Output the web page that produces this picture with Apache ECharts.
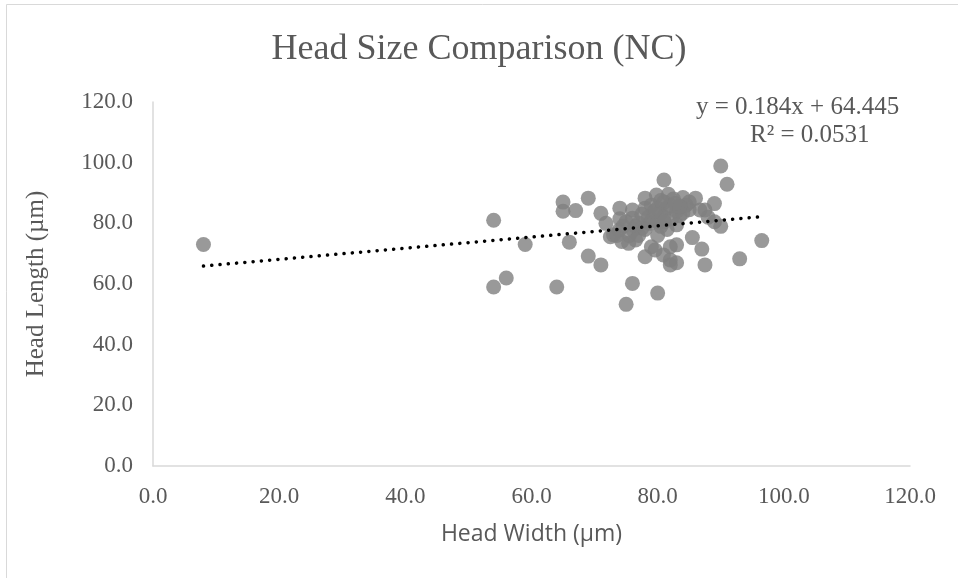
<!DOCTYPE html>
<html>
<head>
<meta charset="utf-8">
<script src="https://cdn.jsdelivr.net/npm/echarts@6/dist/echarts.min.js"></script>
<style>
  html, body { margin: 0; padding: 0; background: #fff; }
  #main { width: 958px; height: 578px; }
</style>
</head>
<body>
<div id="main"></div>
<script>
// 数据：头宽 / 头长 (µm)
var headWidth = [8, 54, 54, 56, 59, 64, 65, 65, 66, 67, 69, 69, 71, 71,
  71.8, 72.5, 73, 73.9, 74, 74.3, 75.4, 75, 76, 76, 76, 76.1, 76.5, 75,
  77, 77.5, 78, 78, 78, 78.5, 78.8, 79, 79.6, 79.8, 79, 80, 80, 80.4, 80.5, 80.9,
  81, 81, 81.5, 81.7, 81.5, 82, 82, 82, 82.2, 82.5, 83, 83, 83, 83.5, 83,
  84, 84.5, 85, 85.5, 86, 86.7, 87, 87.5, 87.5, 88, 89, 89, 90, 90, 91, 93, 96.5,
  79, 80, 81, 82, 84, 77, 78, 80, 85, 74.5, 75.5, 76.5, 74, 73.5,
  79.5, 80.5, 82.8, 81, 83.5, 77.5];
var headLength = [73, 81, 59, 62, 73, 59, 87, 84, 73.8, 84.2, 88.3, 69.2, 83.3, 66.3,
  80, 75.6, 76.2, 77.8, 85, 74, 73.4, 53.3, 60.2, 84.4, 81.7, 77.8, 79, 80.5,
  76, 78.5, 88.3, 85, 69, 82, 80, 72.3, 71.2, 89.3, 86, 57, 76, 83.5, 79, 69.6,
  94.3, 87, 85, 89.6, 78, 72.3, 66.3, 67.9, 81.5, 88, 72.9, 67, 84, 82.5, 79.5,
  88.5, 86, 84.5, 75.3, 88.3, 84.4, 71.5, 66.3, 84.4, 82, 86.5, 80.5, 79, 98.9, 92.9, 68.3, 74.3,
  81, 85, 82, 86, 83.5, 80, 78, 80.5, 87, 79, 76, 74.5, 81.5, 76,
  84, 87.5, 86.5, 80.5, 85.5, 83];
var axisTicks = [0, 20, 40, 60, 80, 100, 120];

// 线性趋势线 (图上给出的方程)
var slope = 0.184;
var intercept = 64.445;
var rSquared = 0.0531;

var points = headWidth.map(function (x, i) { return [x, headLength[i]]; });
var xMin = Math.min.apply(null, headWidth);
var xMax = Math.max.apply(null, headWidth);
var trend = [[xMin, slope * xMin + intercept], [xMax, slope * xMax + intercept]];

var myChart = echarts.init(document.getElementById('main'));

var serif = 'Liberation Serif, Times New Roman, serif';
var labelStyle = {
  color: '#595959',
  fontFamily: serif,
  fontSize: 23,
  formatter: function (v) { return v.toFixed(1); }
};

var option = {
  backgroundColor: '#fff',
  animation: false,
  title: {
    text: 'Head Size Comparison (NC)',
    left: 'center',
    top: 27,
    textStyle: {
      color: '#595959',
      fontFamily: serif,
      fontSize: 36,
      fontWeight: 'normal'
    }
  },
  grid: { left: 153, right: 48, top: 102, bottom: 112 },
  xAxis: {
    type: 'value',
    min: axisTicks[0],
    max: axisTicks[axisTicks.length - 1],
    interval: 20,
    name: 'Head Width (µm)',
    nameLocation: 'middle',
    nameGap: 57,
    nameTextStyle: {
      color: '#595959',
      fontFamily: 'Liberation Sans Narrow, Open Sans, sans-serif',
      fontSize: 23
    },
    axisLine: { lineStyle: { color: '#d9d9d9', width: 1.5 } },
    axisTick: { show: false },
    splitLine: { show: false },
    axisLabel: Object.assign({ margin: 19 }, labelStyle)
  },
  yAxis: {
    type: 'value',
    min: axisTicks[0],
    max: axisTicks[axisTicks.length - 1],
    interval: 20,
    name: 'Head Length (µm)',
    nameLocation: 'middle',
    nameGap: 104,
    nameTextStyle: {
      color: '#595959',
      fontFamily: serif,
      fontSize: 25
    },
    axisLine: { show: true, lineStyle: { color: '#d9d9d9', width: 1.5 } },
    axisTick: { show: false },
    splitLine: { show: false },
    axisLabel: Object.assign({ margin: 20 }, labelStyle)
  },
  graphic: [
    {
      type: 'rect',
      shape: { x: 6.5, y: 4.5, width: 1200, height: 1200 },
      style: { fill: 'none', stroke: '#d9d9d9', lineWidth: 1 },
      silent: true
    },
    {
      type: 'text',
      left: 696,
      top: 95,
      style: {
        text: 'y = ' + slope + 'x + ' + intercept,
        fill: '#595959',
        font: '25px ' + serif
      }
    },
    {
      type: 'text',
      left: 750,
      top: 123,
      style: {
        text: 'R² = ' + rSquared,
        fill: '#595959',
        font: '25px ' + serif
      }
    }
  ],
  series: [
    {
      name: 'Head Size',
      type: 'scatter',
      symbol: 'circle',
      symbolSize: 15,
      itemStyle: { color: '#808080' },
      data: points,
      z: 2
    },
    {
      name: 'Trend',
      type: 'line',
      data: trend,
      symbol: 'none',
      lineStyle: { color: '#000', width: 3.5, type: [0.1, 8.2], cap: 'round' },
      z: 3
    }
  ]
};

myChart.setOption(option);
</script>
</body>
</html>
